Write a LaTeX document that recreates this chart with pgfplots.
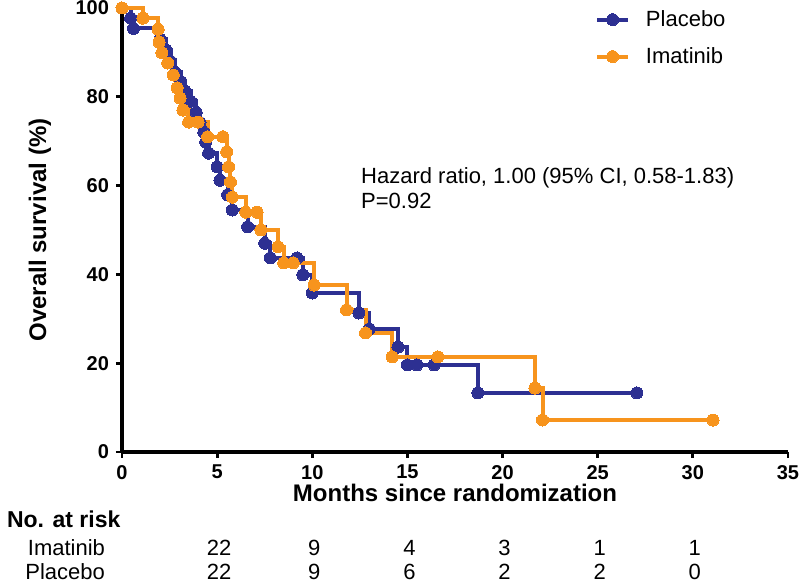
\documentclass[border=0pt]{standalone}
\usepackage{fontspec}
\setmainfont{Liberation Sans}
\usepackage{pgfplots}
\pgfplotsset{compat=1.18}
\definecolor{Plac}{RGB}{45,48,146}
\definecolor{Imat}{RGB}{247,148,29}

\begin{document}
\begin{tikzpicture}
\useasboundingbox (-61pt,-65pt) rectangle (339pt,226pt);
\begin{axis}[
    at={(0pt,0pt)}, anchor=origin,
    scale only axis,
    width=333pt, height=222pt,
    xmin=0, xmax=35, ymin=0, ymax=100,
    xtick={0,5,...,35}, ytick={0,20,...,100},
    axis x line*=bottom, axis y line*=left,
    axis line style={line width=1.6pt, black},
    tick style={line width=1.4pt, black},
    tick align=outside, major tick length=3pt,
    tick label style={font=\fontsize{10}{12}\selectfont\bfseries},
    /pgf/number format/assume math mode=true,
    clip=false,
    legend style={at={(axis description cs:0.71,1.005)}, anchor=north west,
        draw=none, fill=none, font=\fontsize{11}{13}\selectfont,
        row sep=5pt, inner sep=0pt,
        /tikz/every odd column/.append style={column sep=6pt}},
    legend cell align=left,
    legend image code/.code={\draw[mark repeat=2,mark phase=2]
        plot coordinates {(0cm,0cm)(0.27cm,0cm)(0.54cm,0cm)};},
]
% Placebo
\addplot[const plot, Plac, line width=2pt, mark=*, mark size=3pt,
    mark options={fill=Plac, draw=Plac, line width=0pt}] coordinates {
    (0,100) (0.45,97.7) (0.6,95.4) (2.0,93.0) (2.3,90.5) (2.55,88.0)
    (2.8,85.5) (3.1,83.4) (3.3,81.3) (3.6,79.0) (3.9,76.5) (4.1,74.2)
    (4.3,72.0) (4.4,69.8) (4.55,67.3) (5.0,64.2) (5.15,61.2) (5.55,57.9)
    (5.8,54.5) (6.6,50.7) (7.5,47.0) (7.8,43.7) (9.2,43.7) (9.5,39.9)
    (10.0,35.8) (12.45,31.3) (13.0,27.7) (14.5,23.6) (15.0,19.6)
    (15.5,19.6) (16.4,19.6) (18.7,13.3) (27.06,13.3)
};
\addlegendentry{Placebo}
% Imatinib
\addplot[const plot, Imat, line width=2pt, mark=*, mark size=3pt,
    mark options={fill=Imat, draw=Imat, line width=0pt}] coordinates {
    (0,100) (1.1,97.7) (1.9,95.2) (1.95,92.3) (2.1,89.9) (2.4,87.6)
    (2.7,84.9) (2.9,82.0) (3.05,79.7) (3.2,77.0) (3.5,74.3) (4.0,74.3)
    (4.5,71.0) (5.3,71.0) (5.5,67.6) (5.6,64.2) (5.7,60.8) (5.8,57.4)
    (6.5,54.0) (7.1,54.0) (7.3,50.0) (8.2,46.2) (8.5,42.6) (9.0,42.6)
    (10.1,37.6) (11.8,32.0) (12.8,26.8) (14.2,21.4) (16.6,21.4)
    (21.7,14.4) (22.1,7.2) (31.06,7.2)
};
\addlegendentry{Imatinib}

\node[anchor=west, font=\fontsize{11}{13}\selectfont] at (axis cs:12.2,61.7)
    {Hazard ratio, 1.00 (95\% CI, 0.58-1.83)};
\node[anchor=west, font=\fontsize{11}{13}\selectfont] at (axis cs:12.2,56.5)
    {P=0.92};
\end{axis}

% axis titles
\node[rotate=90, font=\fontsize{12}{14}\selectfont\bfseries] at (-41pt,111pt)
    {Overall survival (\%)};
\node[font=\fontsize{12}{14}\selectfont\bfseries] at (166.5pt,-20.5pt)
    {Months since randomization};

% number at risk
\node[anchor=west, font=\fontsize{11.5}{14}\selectfont\bfseries] at (-61pt,-33.5pt)
    {No. at risk};
\begin{scope}[font=\fontsize{11}{13}\selectfont]
\node[anchor=east] at (-5pt,-48pt) {Imatinib};
\node[anchor=east] at (-5pt,-60pt) {Placebo};
\foreach \x/\a/\b in {5/22/22, 10/9/9, 15/4/6, 20/3/2, 25/1/2, 30/1/0} {
    \node at ({\x*333/35*1pt+1pt},-48pt) {\a};
    \node at ({\x*333/35*1pt+1pt},-60pt) {\b};
}
\end{scope}
\end{tikzpicture}
\end{document}
